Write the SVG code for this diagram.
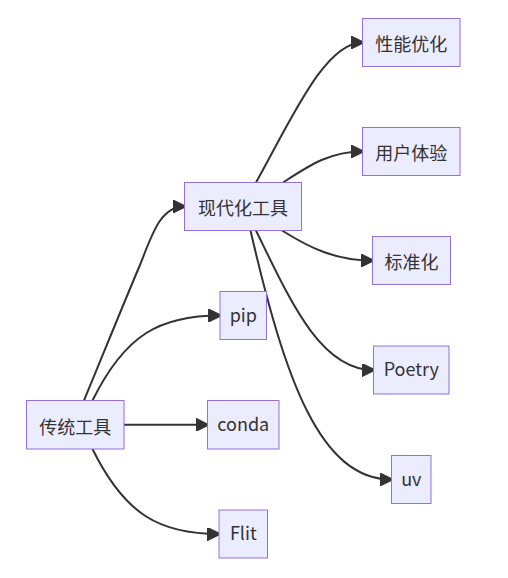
<svg xmlns="http://www.w3.org/2000/svg" width="508" height="578" viewBox="0 0 508 578">
<style>
.node rect{fill:#ECECFF;stroke:#9370DB;stroke-width:1}
.node text{fill:#333333;font-family:"Noto Sans CJK SC","Noto Sans",sans-serif;font-size:18px;text-anchor:middle;dominant-baseline:central}
.edges path{fill:none;stroke:#333333;stroke-width:2;marker-end:url(#arrow)}
</style>
<defs>
<marker id="arrow" viewBox="0 0 10 10" refX="9" refY="5" markerUnits="userSpaceOnUse" markerWidth="13" markerHeight="13" orient="auto">
<path d="M0,0 L10,5 L0,10 z" fill="#333333" stroke="#333333" stroke-width="1"/>
</marker>
</defs>
<rect width="508" height="578" fill="#ffffff"/>
<g class="edges">
<path d="M84,400.5 C100,362 125,300 140,265 C152,235 160,206.5 184.5,206.5"/>
<path d="M92.5,400.5 C125,334.5 160,315.5 220,315.5"/>
<path d="M124,424.8 L207.5,424.8"/>
<path d="M92.5,449 C125,515 160,534 219,534"/>
<path d="M256,182.5 C292,118 325,42.5 362.5,42.5"/>
<path d="M283,182.5 C310,165 330,151.5 362.5,151.5"/>
<path d="M282,230.5 C310,248 335,260.5 372.5,260.5"/>
<path d="M256,230.5 C290,300 320,370 373.5,370"/>
<path d="M250.5,230.5 C285,380 320,479.5 391.5,479.5"/>
</g>
<g id="n-chuantong" class="node"><rect x="26.5" y="400.5" width="97.5" height="48.5"/><text x="75.3" y="425.5">传统工具</text></g>
<g id="n-xiandai" class="node"><rect x="184.5" y="182.5" width="117" height="48"/><text x="243" y="207.2">现代化工具</text></g>
<g id="n-pip" class="node"><rect x="220" y="291.5" width="46.5" height="48"/><text x="243.3" y="313.5">pip</text></g>
<g id="n-conda" class="node"><rect x="207.5" y="400.5" width="71.5" height="48.5"/><text x="243.3" y="422.8">conda</text></g>
<g id="n-flit" class="node"><rect x="219" y="510" width="48.5" height="48"/><text x="243.3" y="532">Flit</text></g>
<g id="n-xingneng" class="node"><rect x="362.5" y="18.5" width="97.5" height="48"/><text x="411.3" y="43.2">性能优化</text></g>
<g id="n-yonghu" class="node"><rect x="362.5" y="127.5" width="97.5" height="48"/><text x="411.3" y="152.2">用户体验</text></g>
<g id="n-biaozhun" class="node"><rect x="372.5" y="236.5" width="78" height="48"/><text x="411.5" y="261.2">标准化</text></g>
<g id="n-poetry" class="node"><rect x="373.5" y="346" width="75.5" height="48"/><text x="411.3" y="368">Poetry</text></g>
<g id="n-uv" class="node"><rect x="391.5" y="455.5" width="39.5" height="48"/><text x="411.3" y="477.5">uv</text></g>
</svg>
